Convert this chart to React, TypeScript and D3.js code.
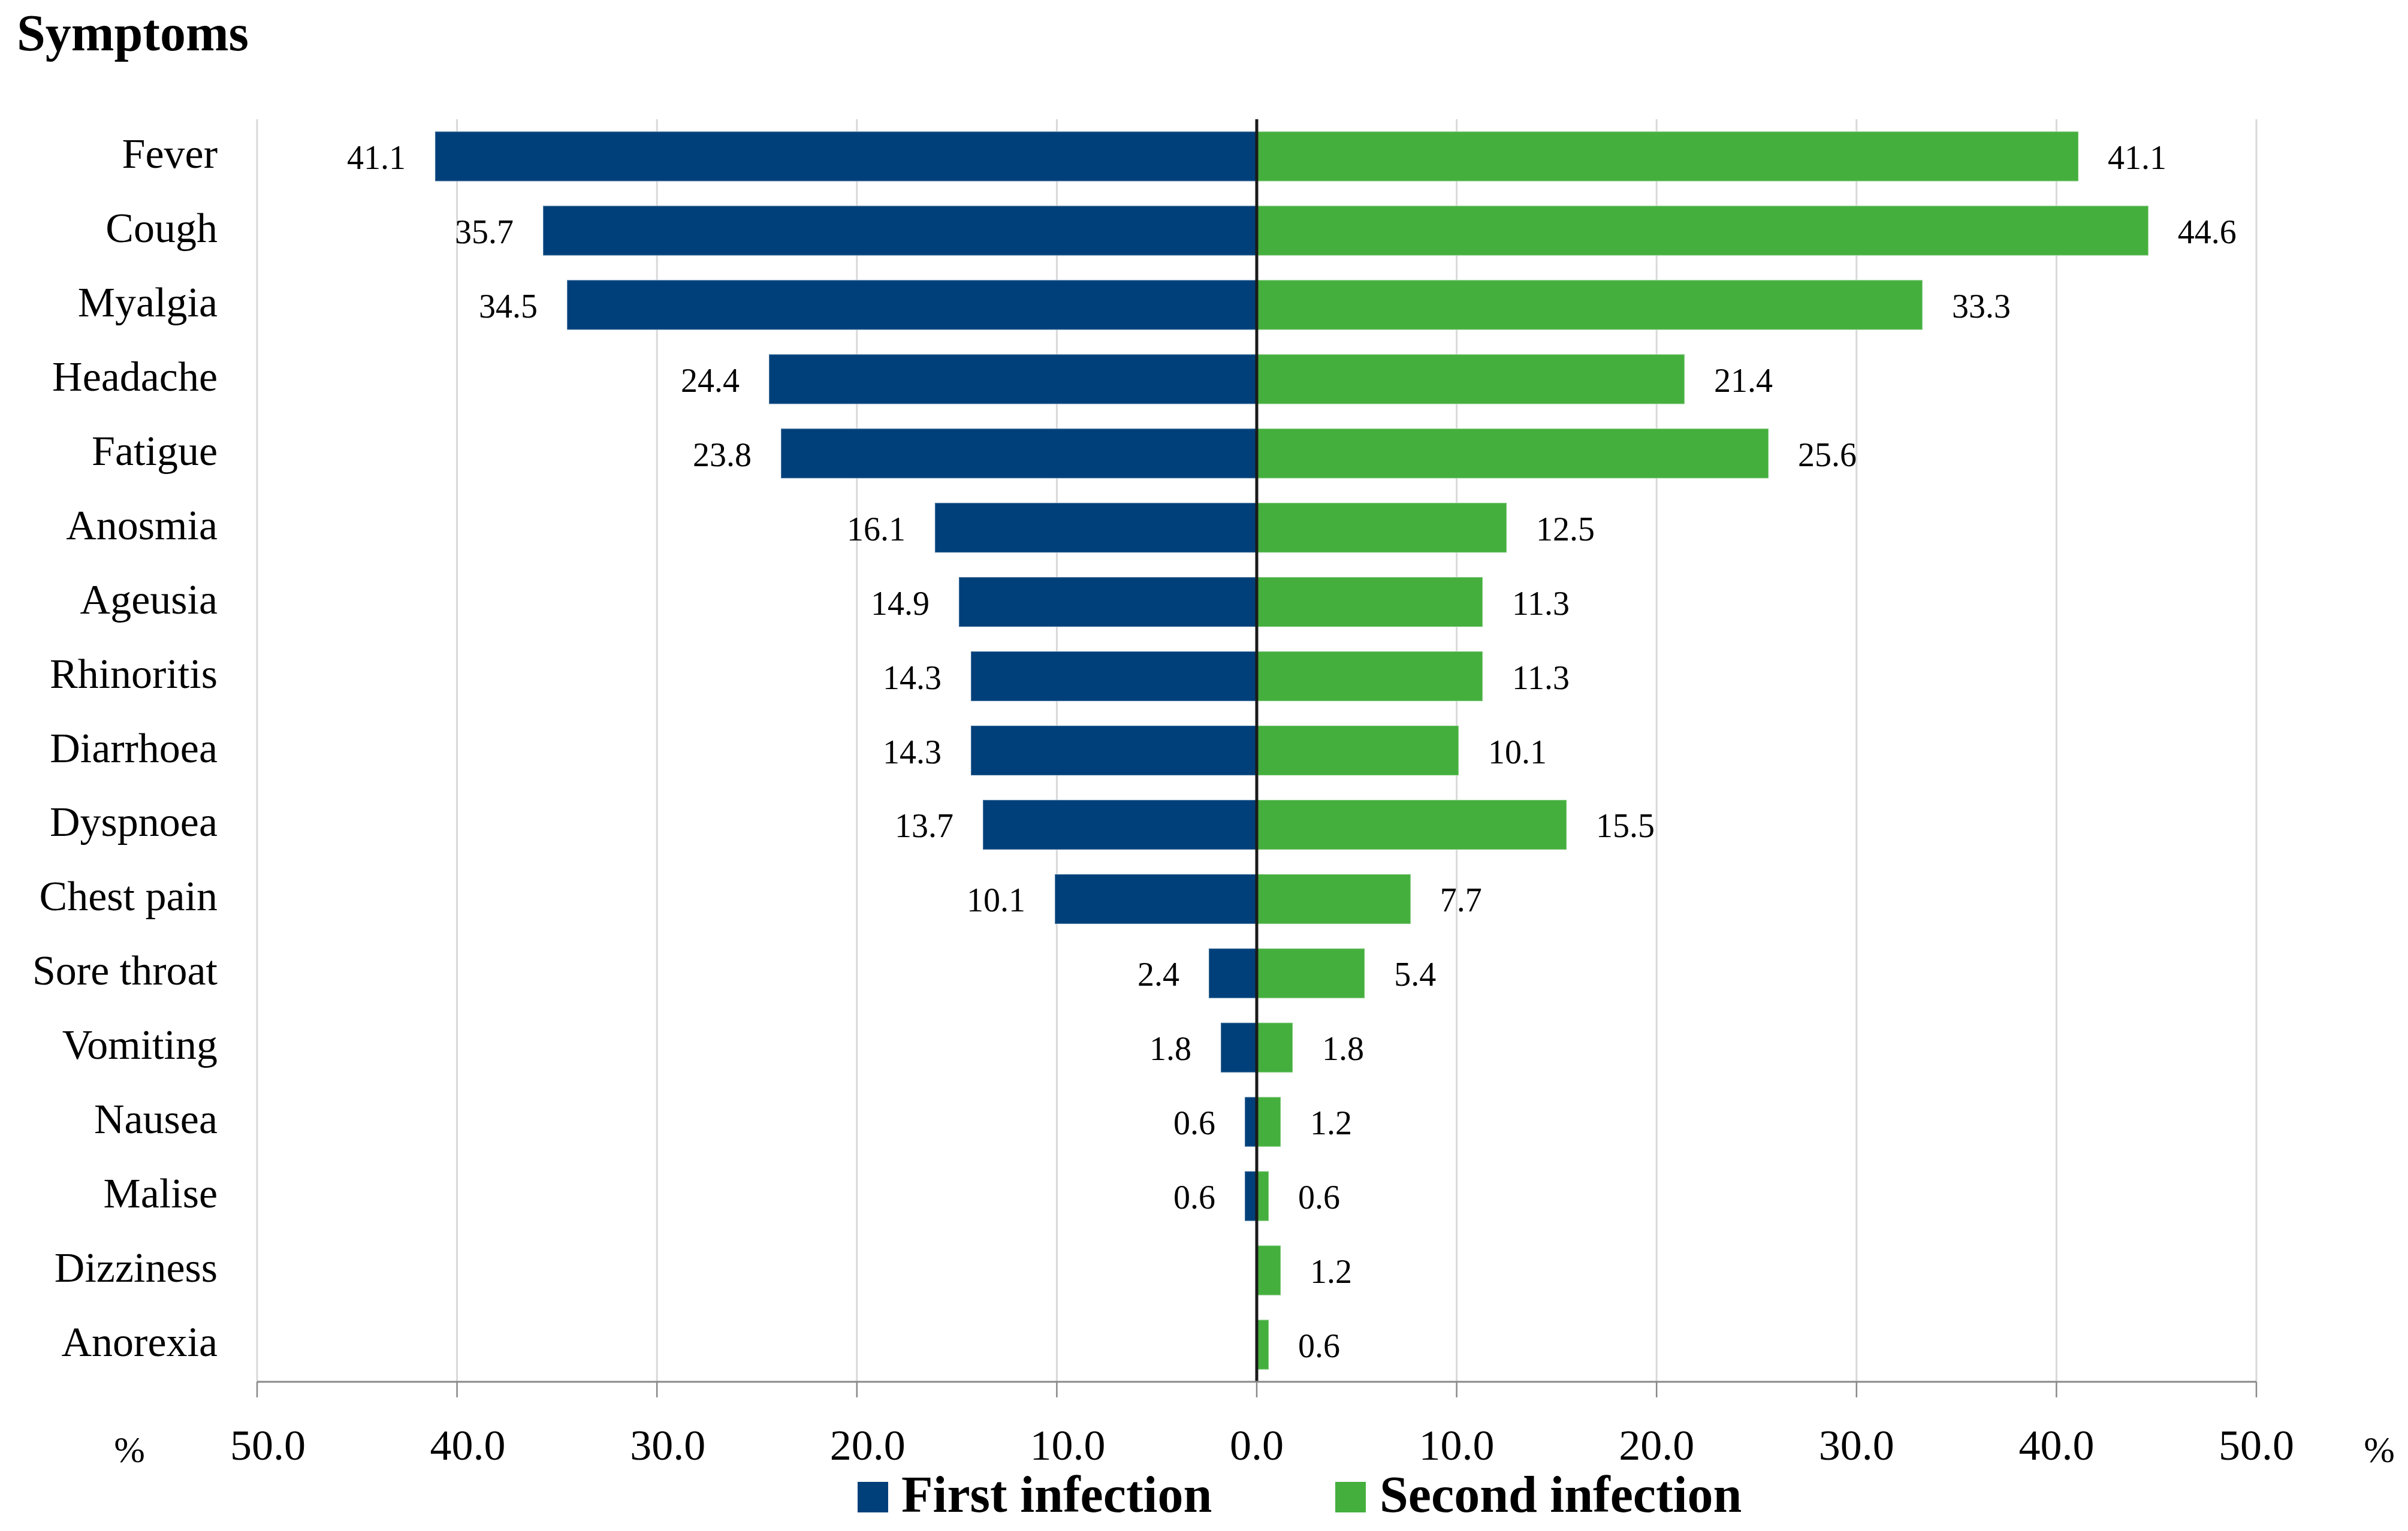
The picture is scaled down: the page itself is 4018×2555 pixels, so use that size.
import React from "react";
import * as d3 from "d3";

const categories = [
  "Fever", "Cough", "Myalgia", "Headache", "Fatigue", "Anosmia", "Ageusia",
  "Rhinoritis", "Diarrhoea", "Dyspnoea", "Chest pain", "Sore throat",
  "Vomiting", "Nausea", "Malise", "Dizziness", "Anorexia",
];
const firstInfection = [41.1, 35.7, 34.5, 24.4, 23.8, 16.1, 14.9, 14.3, 14.3, 13.7, 10.1, 2.4, 1.8, 0.6, 0.6, 0, 0];
const secondInfection = [41.1, 44.6, 33.3, 21.4, 25.6, 12.5, 11.3, 11.3, 10.1, 15.5, 7.7, 5.4, 1.8, 1.2, 0.6, 1.2, 0.6];
const tickValues = [-50, -40, -30, -20, -10, 0, 10, 20, 30, 40, 50];
const seriesNames = ["First infection", "Second infection"];

const W = 4018;
const H = 2555;
const BLUE = "#00407a";
const GREEN = "#45af3e";
const FONT = "'Liberation Serif', 'Times New Roman', serif";

export default function App() {
  const x = d3.scaleLinear().domain([-50, 50]).range([429, 3765]);
  const y = d3
    .scaleBand<string>()
    .domain(categories)
    .range([199, 2306])
    .paddingInner(0.33)
    .paddingOuter(0.165);
  const bh = y.bandwidth();
  const top = 199;
  const axisY = 2306;
  const gap = 49;

  return (
    <svg
      width={W}
      height={H}
      viewBox={`0 0 ${W} ${H}`}
      style={{ position: "absolute", left: 0, top: 0, background: "#fff" }}
      fontFamily={FONT}
    >
      <rect x={0} y={0} width={W} height={H} fill="#fff" />
      <text x={28} y={84} fontSize={86} fontWeight="bold" fill="#000">
        Symptoms
      </text>

      {/* gridlines */}
      {tickValues.map((t) =>
        t === 0 ? null : (
          <line key={"g" + t} x1={x(t)} x2={x(t)} y1={top} y2={axisY} stroke="#d9d9d9" strokeWidth={3} />
        )
      )}

      {/* bars */}
      {categories.map((c, i) => {
        const v1 = firstInfection[i];
        const v2 = secondInfection[i];
        const yy = y(c)!;
        return (
          <g key={c}>
            {v1 > 0 && (
              <rect x={x(-v1)} y={yy} width={x(0) - x(-v1)} height={bh} fill={BLUE} stroke="rgba(255,255,255,0.3)" strokeWidth={2} />
            )}
            {v2 > 0 && (
              <rect x={x(0)} y={yy} width={x(v2) - x(0)} height={bh} fill={GREEN} stroke="rgba(255,255,255,0.3)" strokeWidth={2} />
            )}
          </g>
        );
      })}

      {/* zero line */}
      <line x1={x(0)} x2={x(0)} y1={top} y2={axisY} stroke="#1a1a1a" strokeWidth={5} />

      {/* axis */}
      <line x1={x(-50)} x2={x(50)} y1={axisY} y2={axisY} stroke="#898989" strokeWidth={3} />
      {tickValues.map((t) => (
        <line key={"t" + t} x1={x(t)} x2={x(t)} y1={axisY} y2={axisY + 26} stroke="#898989" strokeWidth={2.5} />
      ))}
      {tickValues.map((t) => (
        <text
          key={"tl" + t}
          x={x(t) + (t < 0 ? 18 : 0)}
          y={2436}
          fontSize={72}
          textAnchor="middle"
          fill="#000"
        >
          {Math.abs(t).toFixed(1)}
        </text>
      ))}
      <text x={216} y={2440} fontSize={62} textAnchor="middle" fill="#000">%</text>
      <text x={3970} y={2440} fontSize={62} textAnchor="middle" fill="#000">%</text>

      {/* category labels */}
      {categories.map((c) => (
        <text
          key={"c" + c}
          x={363}
          y={y(c)! + bh / 2 + 19}
          fontSize={70}
          textAnchor="end"
          fill="#000"
        >
          {c}
        </text>
      ))}

      {/* value labels */}
      {categories.map((c, i) => {
        const v1 = firstInfection[i];
        const v2 = secondInfection[i];
        const cy = y(c)! + bh / 2 + 21;
        return (
          <g key={"v" + c} fontSize={56} fill="#000">
            {v1 > 0 && (
              <text x={x(-v1) - gap} y={cy} textAnchor="end">
                {v1.toFixed(1)}
              </text>
            )}
            {v2 > 0 && (
              <text x={x(v2) + gap} y={cy} textAnchor="start">
                {v2.toFixed(1)}
              </text>
            )}
          </g>
        );
      })}

      {/* legend */}
      <rect x={1431} y={2473} width={51} height={51} fill={BLUE} />
      <text x={1504} y={2523} fontSize={86} fontWeight="bold" fill="#000">{seriesNames[0]}</text>
      <rect x={2228} y={2473} width={51} height={51} fill={GREEN} />
      <text x={2302} y={2523} fontSize={86} fontWeight="bold" fill="#000">{seriesNames[1]}</text>
    </svg>
  );
}
